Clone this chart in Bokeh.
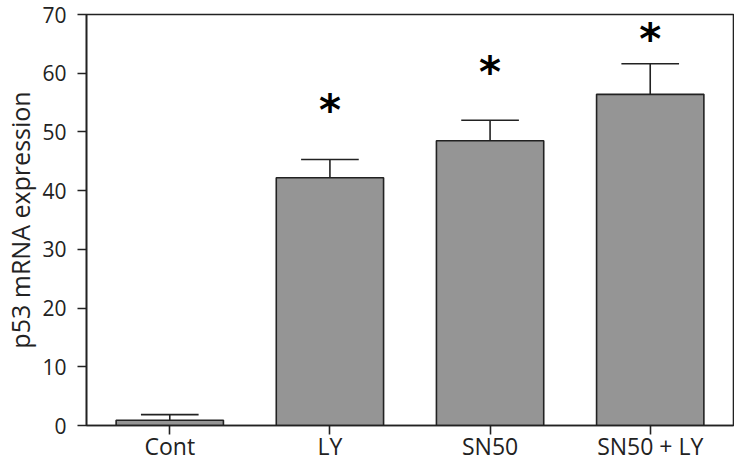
from bokeh.plotting import figure
from bokeh.models import ColumnDataSource, FactorRange
from bokeh.core.properties import value
from bokeh.transform import dodge
from bokeh.embed import file_html
from bokeh.resources import INLINE

categories = ["Cont", "LY", "SN50", "SN50 + LY"]
means = [0.9, 42.2, 48.5, 56.4]
upper = [1.85, 45.3, 52.0, 61.6]
star_labels = ["", "*", "*", "*"]
star_y = [0, 54.9, 61.3, 67.0]

src = ColumnDataSource(dict(cat=categories, mean=means, upper=upper))
stars = ColumnDataSource(dict(cat=categories[1:], y=star_y[1:], t=star_labels[1:]))

FONT = "Open Sans"
p = figure(x_range=FactorRange(*categories, range_padding=0.01), y_range=(0, 70),
           width=734, height=464, output_backend="svg", toolbar_location=None,
           min_border_top=14, min_border_right=1, min_border_left=83,
           min_border_bottom=0)

p.vbar(x="cat", top="mean", width=0.67, source=src, fill_color="#959595",
       line_color="#222222", line_width=1.6)
p.segment(x0="cat", y0="mean", x1="cat", y1="upper", source=src,
          line_color="#222222", line_width=1.6)
p.segment(x0=dodge("cat", -0.18, range=p.x_range), y0="upper",
          x1=dodge("cat", 0.18, range=p.x_range), y1="upper", source=src,
          line_color="#222222", line_width=1.6)
p.text(x="cat", y="y", text="t", source=stars, text_font=value("DejaVu Sans"),
       text_font_style="bold", text_font_size="42px", text_align="center",
       text_baseline="middle", text_color="#000000", y_offset=7)

p.xgrid.visible = False
p.ygrid.visible = False
p.outline_line_color = "#222222"
p.outline_line_width = 1.6

for ax in (p.xaxis[0], p.yaxis[0]):
    ax.axis_line_color = "#222222"
    ax.axis_line_width = 1.6
    ax.major_tick_line_color = "#222222"
    ax.major_tick_line_width = 1.6
    ax.major_tick_out = 9
    ax.major_tick_in = 0
    ax.minor_tick_line_color = None
    ax.major_label_text_font = FONT
    ax.major_label_text_color = "#222222"

p.yaxis.major_label_text_font_size = "21px"
p.xaxis.major_label_text_font_size = "23px"
p.yaxis.ticker = [0, 10, 20, 30, 40, 50, 60, 70]
p.yaxis.major_label_standoff = 11
p.xaxis.major_label_standoff = -5
p.yaxis.axis_label = "p53 mRNA expression"
p.yaxis.axis_label_text_font = FONT
p.yaxis.axis_label_text_font_size = "25px"
p.yaxis.axis_label_text_font_style = "normal"
p.yaxis.axis_label_text_color = "#222222"
p.yaxis.axis_label_standoff = 2

open("out.html", "w").write(file_html(p, INLINE))
